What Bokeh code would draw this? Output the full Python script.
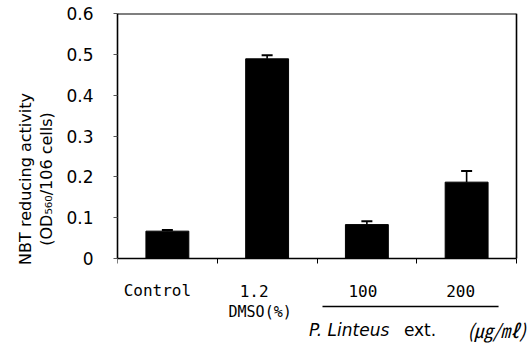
from bokeh.plotting import figure
from bokeh.models import (Range1d, FixedTicker, Whisker, TeeHead, ColumnDataSource,
                          LinearAxis)
from bokeh.core.properties import value
from bokeh.embed import file_html
from bokeh.resources import INLINE

# ---- data ----
categories = ["Control", "1.2", "100", "200"]
values = [0.067, 0.489, 0.083, 0.187]
errors = [0.003, 0.009, 0.008, 0.027]
y_ticks = [0, 0.1, 0.2, 0.3, 0.4, 0.5, 0.6]
y_label_1 = "NBT reducing activity"
y_label_2 = "(OD\u2085\u2086\u2080/106 cells)"
sub_label = "DMSO(%)"
group_parts = ["P. Linteus", "ext.", "(\u338d/\u3396)"]
group_members = ["100", "200"]

# ---- layout (pixels) ----
W, H = 532, 344
L, T = 117, 13
PXX = 99.75                 # px per category
PXY = 245 / 0.6             # px per y unit
YMAX = y_ticks[-1]
NCAT = len(categories)

x = [i + 0.5 for i in range(NCAT)]
upper = [v + e for v, e in zip(values, errors)]
src = ColumnDataSource(dict(x=x, top=values, upper=upper))

p = figure(width=W, height=H, output_backend="svg", toolbar_location=None,
           x_range=Range1d(0, (W - L) / PXX),
           y_range=Range1d(YMAX - (H - T) / PXY, YMAX),
           x_axis_location="above",
           min_border_left=L, min_border_right=0, min_border_top=T,
           min_border_bottom=0)
p.grid.visible = False
p.outline_line_color = None

p.vbar(x="x", top="top", width=0.43, bottom=0, source=src,
       fill_color="black", line_color="black")
w = Whisker(base="x", lower="top", upper="upper", source=src, dimension="height",
            line_color="black", line_width=1.6,
            upper_head=TeeHead(size=11, line_color="black", line_width=2),
            lower_head=None)
p.add_layout(w)

# x axis at y = 0, tick marks at category boundaries pointing down
xa = p.xaxis[0]
xa.fixed_location = 0
xa.bounds = (0, NCAT)
xa.ticker = FixedTicker(ticks=[], minor_ticks=list(range(NCAT + 1)))
xa.major_tick_out = 0
xa.major_tick_in = 0
xa.major_label_standoff = 0
xa.minor_tick_in = 5
xa.minor_tick_out = 0
xa.minor_tick_line_color = "black"
xa.axis_line_color = "black"
xa.axis_line_width = 1.6

# top and right borders of the plot box
top_ax = LinearAxis(fixed_location=YMAX, bounds=(0, NCAT), ticker=FixedTicker(ticks=[]),
                    axis_line_width=2.2, axis_line_color="black",
                    major_tick_out=0, major_tick_in=0, minor_tick_out=0,
                    minor_tick_in=0, major_label_standoff=0)
p.add_layout(top_ax, "above")
right_ax = LinearAxis(fixed_location=NCAT, bounds=(0, YMAX), ticker=FixedTicker(ticks=[]),
                      axis_line_width=1.6, axis_line_color="black",
                      major_tick_out=0, major_tick_in=0, minor_tick_out=0,
                      minor_tick_in=0, major_label_standoff=0)
p.add_layout(right_ax, "right")

# y axis
ya = p.yaxis[0]
ya.bounds = (0, YMAX)
ya.ticker = FixedTicker(ticks=y_ticks)
ya.major_label_overrides = {0: "0"}
ya.major_tick_in = 0
ya.major_tick_out = 4
ya.major_tick_line_color = "#555555"
ya.minor_tick_line_color = None
ya.axis_line_width = 1.6
ya.axis_line_color = "black"
ya.major_label_standoff = 20
ya.major_label_text_font = "DejaVu Sans"
ya.major_label_text_font_size = "17px"
ya.major_label_text_color = "black"
ya.axis_label = y_label_2
ya.axis_label_standoff = 7
ya.axis_label_text_font = "DejaVu Sans"
ya.axis_label_text_font_size = "16px"
ya.axis_label_text_font_style = "normal"
ya.axis_label_text_color = "black"

outer = LinearAxis(ticker=FixedTicker(ticks=[]), bounds=(0, YMAX), axis_label=y_label_1,
                   axis_line_color=None, major_tick_out=0, major_tick_in=0,
                   minor_tick_out=0, minor_tick_in=0, major_label_standoff=0,
                   axis_label_standoff=0, axis_label_text_font="DejaVu Sans",
                   axis_label_text_font_size="16px",
                   axis_label_text_font_style="normal", axis_label_text_color="black")
p.add_layout(outer, "left")

# ---- texts below the plot box (data coordinates below y = 0) ----
def ydata(page_y):
    return (T + 245 - page_y) / PXY

cat_dx = [-10, -13, -4, -6]
p.text(x=x, y=[ydata(290)] * NCAT, text=categories, x_offset=cat_dx,
       text_align="center", text_baseline="middle",
       text_font=value("DejaVu Sans Mono"), text_font_size="16px",
       text_color="black")
p.text(x=[x[1]], y=[ydata(311)], text=[sub_label], x_offset=[-7],
       text_align="center", text_baseline="middle",
       text_font=value("DejaVu Sans Mono"), text_font_size="15px",
       text_color="black")

i0 = categories.index(group_members[0])
i1 = categories.index(group_members[-1])
p.line(x=[x[i0] - 0.445, x[i1] + 0.32], y=[ydata(306)] * 2, line_color="black",
       line_width=1.5)
gy = [ydata(329)]
p.text(x=[x[i0]], y=gy, x_offset=[-58], text=[group_parts[0]], text_align="left",
       text_baseline="middle", text_font=value("DejaVu Sans"),
       text_font_style="italic", text_font_size="17px", text_color="black")
p.text(x=[x[i0]], y=gy, x_offset=[37], text=[group_parts[1]], text_align="left",
       text_baseline="middle", text_font=value("DejaVu Sans"),
       text_font_size="17px", text_color="black")
p.text(x=[x[i0]], y=gy, x_offset=[159], text=[group_parts[2]], text_align="right",
       text_baseline="middle", text_font=value("Noto Sans CJK KR"),
       text_font_style="italic", text_font_size="19px", text_color="black")

open("out.html", "w").write(file_html(p, INLINE))
